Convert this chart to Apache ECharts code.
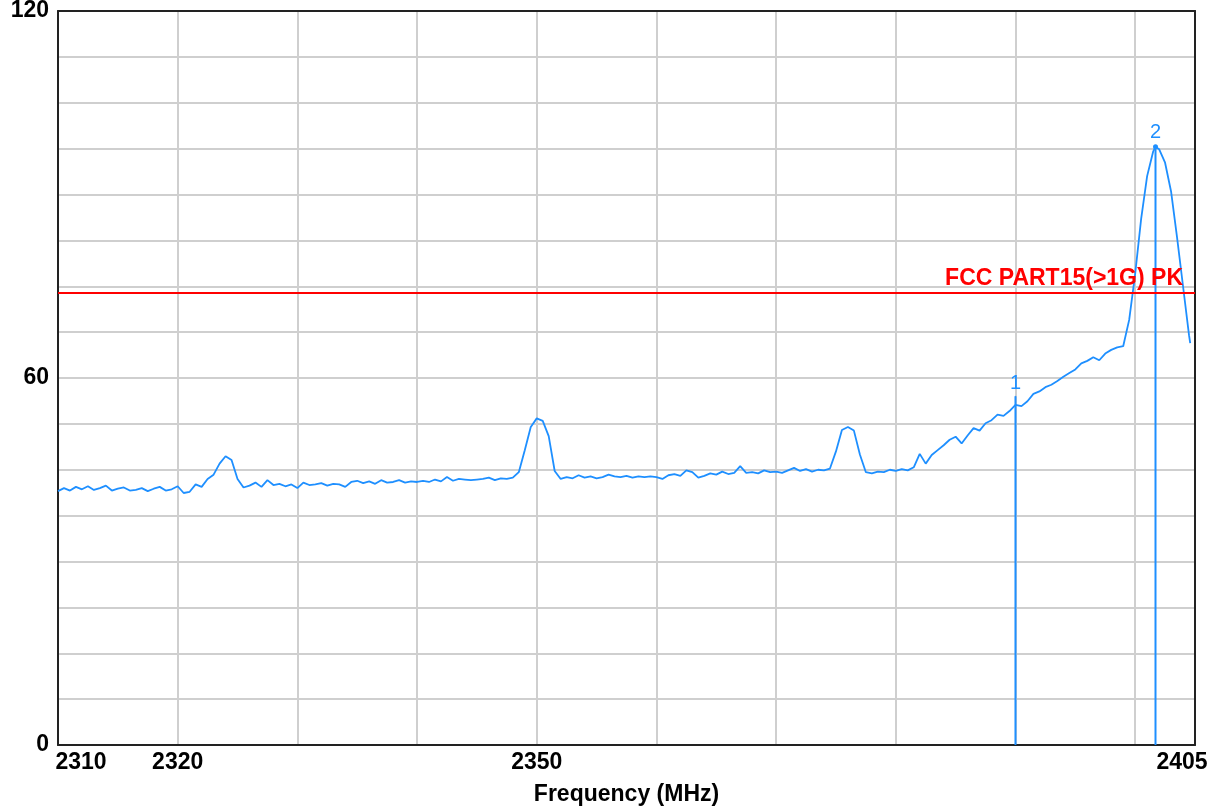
<!DOCTYPE html>
<html>
<head>
<meta charset="utf-8">
<script src="https://cdn.jsdelivr.net/npm/echarts@6/dist/echarts.min.js"></script>
<style>
    html, body { margin: 0; padding: 0; background: #fff; }
    #chart { width: 1220px; height: 810px; }
</style>
</head>
<body>
<div id="chart"></div>
<script>
// spectrum trace (MHz / dBuV/m)
const freqList = [
    2310.0, 2310.5, 2311.0, 2311.5, 2312.0, 2312.5, 2313.0, 2313.5, 2314.0, 2314.5,
    2315.0, 2315.5, 2316.0, 2316.5, 2317.0, 2317.5, 2318.0, 2318.5, 2319.0, 2319.5,
    2320.0, 2320.5, 2321.0, 2321.5, 2322.0, 2322.5, 2323.0, 2323.5, 2324.0, 2324.5,
    2325.0, 2325.5, 2326.0, 2326.5, 2327.0, 2327.5, 2328.0, 2328.5, 2329.0, 2329.5,
    2330.0, 2330.5, 2331.0, 2331.5, 2332.0, 2332.5, 2333.0, 2333.5, 2334.0, 2334.5,
    2335.0, 2335.5, 2336.0, 2336.5, 2337.0, 2337.5, 2338.0, 2338.5, 2339.0, 2339.5,
    2340.0, 2340.5, 2341.0, 2341.5, 2342.0, 2342.5, 2343.0, 2343.5, 2344.0, 2344.5,
    2345.0, 2345.5, 2346.0, 2346.5, 2347.0, 2347.5, 2348.0, 2348.5, 2349.0, 2349.5,
    2350.0, 2350.5, 2351.0, 2351.5, 2352.0, 2352.5, 2353.0, 2353.5, 2354.0, 2354.5,
    2355.0, 2355.5, 2356.0, 2356.5, 2357.0, 2357.5, 2358.0, 2358.5, 2359.0, 2359.5,
    2360.0, 2360.5, 2361.0, 2361.5, 2362.0, 2362.5, 2363.0, 2363.5, 2364.0, 2364.5,
    2365.0, 2365.5, 2366.0, 2366.5, 2367.0, 2367.5, 2368.0, 2368.5, 2369.0, 2369.5,
    2370.0, 2370.5, 2371.0, 2371.5, 2372.0, 2372.5, 2373.0, 2373.5, 2374.0, 2374.5,
    2375.0, 2375.5, 2376.0, 2376.5, 2377.0, 2377.5, 2378.0, 2378.5, 2379.0, 2379.5,
    2380.0, 2380.5, 2381.0, 2381.5, 2382.0, 2382.5, 2383.0, 2383.5, 2384.0, 2384.5,
    2385.0, 2385.5, 2386.0, 2386.5, 2387.0, 2387.5, 2388.0, 2388.5, 2389.0, 2389.5,
    2390.0, 2390.5, 2391.0, 2391.5, 2392.0, 2392.5, 2393.0, 2393.5, 2394.0, 2394.5,
    2395.0, 2395.5, 2396.0, 2396.5, 2397.0, 2397.5, 2398.0, 2398.5, 2399.0, 2399.5,
    2400.0, 2400.5, 2401.0, 2401.5, 2401.7, 2402.0, 2402.5, 2403.0, 2403.5, 2404.0,
    2404.5, 2404.6
]
const levelList = [
    41.5, 42.0, 41.6, 42.2, 41.8, 42.3, 41.7, 42.0, 42.4, 41.6,
    41.9, 42.1, 41.6, 41.7, 42.0, 41.5, 41.9, 42.2, 41.6, 41.8,
    42.3, 41.2, 41.4, 42.6, 42.2, 43.5, 44.2, 46.0, 47.2, 46.6,
    43.5, 42.1, 42.4, 42.9, 42.2, 43.3, 42.5, 42.7, 42.3, 42.6,
    42.0, 42.9, 42.5, 42.6, 42.8, 42.4, 42.7, 42.6, 42.2, 43.0,
    43.2, 42.8, 43.1, 42.7, 43.3, 42.9, 43.0, 43.3, 42.9, 43.1,
    43.0, 43.2, 43.0, 43.4, 43.1, 43.8, 43.2, 43.5, 43.4, 43.3,
    43.4, 43.5, 43.7, 43.3, 43.6, 43.5, 43.7, 44.6, 48.2, 52.0,
    53.4, 53.0, 50.5, 44.8, 43.5, 43.8, 43.6, 44.1, 43.7, 43.9,
    43.6, 43.8, 44.2, 43.9, 43.8, 44.0, 43.7, 43.9, 43.8, 43.9,
    43.8, 43.5, 44.1, 44.3, 44.0, 44.9, 44.6, 43.7, 44.0, 44.4,
    44.2, 44.7, 44.3, 44.5, 45.6, 44.5, 44.6, 44.4, 44.9, 44.6,
    44.7, 44.5, 44.9, 45.3, 44.8, 45.1, 44.7, 45.0, 44.9, 45.2,
    48.0, 51.5, 52.0, 51.4, 47.5, 44.6, 44.4, 44.7, 44.6, 45.0,
    44.8, 45.1, 44.9, 45.4, 47.6, 46.0, 47.4, 48.2, 49.0, 49.9,
    50.4, 49.3, 50.6, 51.8, 51.4, 52.6, 53.1, 54.0, 53.8, 54.6,
    55.6, 55.4, 56.2, 57.4, 57.8, 58.5, 58.9, 59.5, 60.2, 60.8,
    61.4, 62.4, 62.8, 63.4, 62.9, 64.0, 64.6, 65.0, 65.2, 69.5,
    77.0, 86.0, 93.0, 97.0, 97.8, 97.4, 95.2, 90.5, 83.0, 75.0,
    67.0, 65.7
]

const limitLevel = 74
const limitName = 'FCC PART15(>1G) PK'

const markerName = ['1', '2']
const markerFreq = [2390, 2401.7]
const markerLevel = [57, 97.8]

const xLabelList = [2310, 2320, 2350, 2405]
const yLabelList = [0, 60, 120]

const traceColor = '#1e8fff'
const labelFont = '"Liberation Sans", Arial, sans-serif'
const frameLine = { show: true, onZero: false, lineStyle: { color: '#222', width: 2 } }

const SpectrumChart = {
    myChart: echarts.init(document.getElementById('chart')),
    _markerSeries: function () {
        return markerFreq.map((f, i) => ({
            type: 'line',
            silent: true,
            animation: false,
            symbol: 'circle',
            symbolSize: i === 1 ? 5 : 1,
            itemStyle: { color: traceColor },
            lineStyle: { color: traceColor, width: 2 },
            data: [
                { value: [f, 0], symbol: 'none' },
                {
                    value: [f, markerLevel[i]],
                    label: {
                        show: true,
                        position: 'top',
                        distance: 2,
                        formatter: markerName[i],
                        color: traceColor,
                        fontFamily: labelFont,
                        fontSize: 20
                    }
                }
            ]
        }))
    },
    _option: function () {
        const axisFont = { fontFamily: labelFont, fontWeight: 'bold', fontSize: 23, color: '#000' }
        const gridLine = { show: true, lineStyle: { color: '#cfcfcf', width: 2 } }
        return {
            backgroundColor: '#fff',
            animation: false,
            grid: {
                left: 58, right: 25, top: 11, bottom: 65,
                outerBoundsMode: 'none'
            },
            xAxis: [
                {
                    type: 'value',
                    min: 2310, max: 2405, interval: 10,
                    name: 'Frequency (MHz)',
                    nameLocation: 'middle',
                    nameGap: 38,
                    nameTextStyle: axisFont,
                    axisLine: frameLine,
                    axisTick: { show: false },
                    splitLine: gridLine,
                    axisLabel: Object.assign({
                        customValues: xLabelList,
                        margin: 6,
                        formatter: v => v === 2310 ? '{a|2310}' : v === 2405 ? '{b|2405}' : String(v),
                        rich: {
                            a: Object.assign({ padding: [0, 0, 0, 46] }, axisFont),
                            b: Object.assign({ padding: [0, 26, 0, 0] }, axisFont)
                        }
                    }, axisFont)
                },
                {
                    type: 'value', position: 'top',
                    min: 2310, max: 2405,
                    axisLine: frameLine,
                    axisTick: { show: false },
                    axisLabel: { show: false },
                    splitLine: { show: false }
                }
            ],
            yAxis: [
                {
                    type: 'value',
                    min: 0, max: 120, interval: 7.5,
                    axisLine: frameLine,
                    axisTick: { show: false },
                    splitLine: gridLine,
                    axisLabel: Object.assign({ customValues: yLabelList, margin: 9 }, axisFont)
                },
                {
                    type: 'value', position: 'right',
                    min: 0, max: 120,
                    axisLine: frameLine,
                    axisTick: { show: false },
                    axisLabel: { show: false },
                    splitLine: { show: false }
                }
            ],
            series: [
                {
                    type: 'line',
                    name: 'trace',
                    silent: true,
                    showSymbol: false,
                    lineStyle: { color: traceColor, width: 1.8 },
                    data: freqList.map((f, i) => [f, levelList[i]]),
                    markLine: {
                        silent: true,
                        symbol: 'none',
                        lineStyle: { color: '#ff0000', width: 2, type: 'solid' },
                        label: {
                            position: 'insideEndTop',
                            formatter: limitName,
                            color: '#ff0000',
                            fontFamily: labelFont,
                            fontWeight: 'bold',
                            fontSize: 23,
                            distance: [12, 2]
                        },
                        data: [{ yAxis: limitLevel }]
                    }
                }
            ].concat(this._markerSeries())
        }
    },
    init: function () {
        this.render(this._option())
    },
    render: function (options) {
        this.myChart.setOption(options)
    }
}
SpectrumChart.init()
</script>
</body>
</html>
